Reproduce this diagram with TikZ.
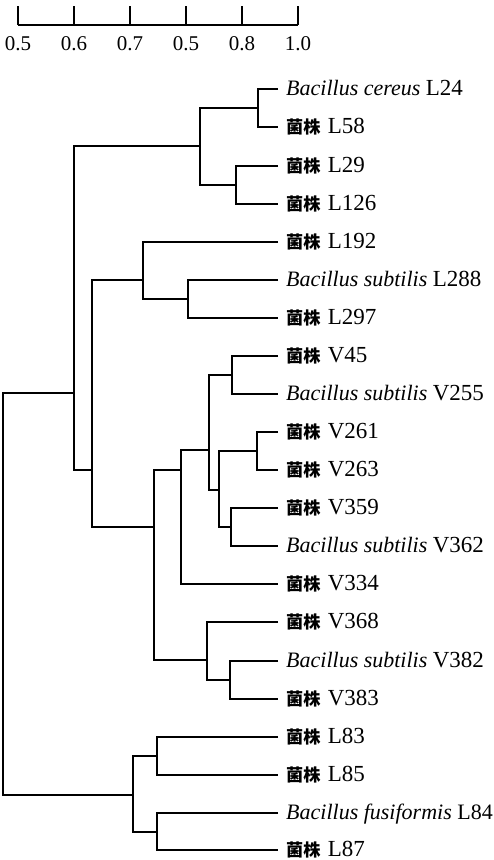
\documentclass[tikz,border=0pt]{standalone}
\usepackage{fontspec}
\setmainfont{Liberation Serif}
\newfontfamily\cjk[Scale=0.78]{Noto Sans CJK SC}
\newcommand{\idf}[1]{{\fontsize{23}{26}\selectfont #1}}
\newcommand{\jz}[1]{{\cjk\bfseries 菌株}\,\,\idf{#1}}
\newcommand{\bac}[2]{\textit{Bacillus #1}~\idf{#2}}

\begin{document}
\begin{tikzpicture}[x=1pt,y=-1pt,
    branch/.style={line width=1.3pt},
    leaf/.style={anchor=west,inner xsep=8pt,inner ysep=0pt,
      text height=13pt,text depth=0pt,font=\fontsize{22}{26}\selectfont},
    tick/.style={font=\fontsize{21}{25}\selectfont,anchor=base,inner sep=0pt},
  ]
  \useasboundingbox (0,0) rectangle (494,860);

  % scale bar
  \draw[branch] (18,25) -- (298,25);
  \foreach \v [count=\i from 0] in {0.5,0.6,0.7,0.5,0.8,1.0}{
    \draw[branch] (18+56*\i,25) -- (18+56*\i,6);
    \node[tick] (sc\i) at (18+56*\i,50) {\v};
  }

  \node[leaf] (L24)  at (278,89)  {\bac{cereus}{L24}};
  \node[leaf] (L58)  at (278,127) {\jz{L58}};
  \node[leaf] (L29)  at (278,166) {\jz{L29}};
  \node[leaf] (L126) at (278,204) {\jz{L126}};
  \node[leaf] (L192) at (278,242) {\jz{L192}};
  \node[leaf] (L288) at (278,280) {\bac{subtilis}{L288}};
  \node[leaf] (L297) at (278,318) {\jz{L297}};
  \node[leaf] (V45)  at (278,356) {\jz{V45}};
  \node[leaf] (V255) at (278,394) {\bac{subtilis}{V255}};
  \node[leaf] (V261) at (278,432) {\jz{V261}};
  \node[leaf] (V263) at (278,470) {\jz{V263}};
  \node[leaf] (V359) at (278,508) {\jz{V359}};
  \node[leaf] (V362) at (278,546) {\bac{subtilis}{V362}};
  \node[leaf] (V334) at (278,584) {\jz{V334}};
  \node[leaf] (V368) at (278,622) {\jz{V368}};
  \node[leaf] (V382) at (278,661) {\bac{subtilis}{V382}};
  \node[leaf] (V383) at (278,699) {\jz{V383}};
  \node[leaf] (L83)  at (278,737) {\jz{L83}};
  \node[leaf] (L85)  at (278,775) {\jz{L85}};
  \node[leaf] (L84)  at (278,813) {\textit{Bacillus fusiformis}~L84};
  \node[leaf] (L87)  at (278,850) {\jz{L87}};

  % internal nodes
  \coordinate (cA) at (258,108);
  \coordinate (cB) at (236,185);
  \coordinate (cC) at (200,146);
  \coordinate (cD) at (188,299);
  \coordinate (cE) at (143,280);
  \coordinate (cF) at (232,375);
  \coordinate (cG) at (257,451);
  \coordinate (cH) at (231,527);
  \coordinate (cI) at (219,490);
  \coordinate (cJ) at (209,450);
  \coordinate (cK) at (181,470);
  \coordinate (cM) at (230,680);
  \coordinate (cN) at (207,660);
  \coordinate (cO) at (154,527);
  \coordinate (cP) at (92,470);
  \coordinate (cQ) at (74,393);
  \coordinate (cR) at (157,756);
  \coordinate (cS) at (157,832);
  \coordinate (cT) at (133,795);
  \coordinate (root) at (3,600);

  \draw[branch] (L24.west) -| (cA) |- (L58.west);
  \draw[branch] (L29.west) -| (cB) |- (L126.west);
  \draw[branch] (cA) -| (cC) |- (cB);
  \draw[branch] (L288.west) -| (cD) |- (L297.west);
  \draw[branch] (L192.west) -| (cE) |- (cD);
  \draw[branch] (V45.west) -| (cF) |- (V255.west);
  \draw[branch] (V261.west) -| (cG) |- (V263.west);
  \draw[branch] (V359.west) -| (cH) |- (V362.west);
  \draw[branch] (cG) -| (cI) |- (cH);
  \draw[branch] (cF) -| (cJ) |- (cI);
  \draw[branch] (cJ) -| (cK) |- (V334.west);
  \draw[branch] (V382.west) -| (cM) |- (V383.west);
  \draw[branch] (V368.west) -| (cN) |- (cM);
  \draw[branch] (cK) -| (cO) |- (cN);
  \draw[branch] (cE) -| (cP) |- (cO);
  \draw[branch] (cC) -| (cQ) |- (cP);
  \draw[branch] (L83.west) -| (cR) |- (L85.west);
  \draw[branch] (L84.west) -| (cS) |- (L87.west);
  \draw[branch] (cR) -| (cT) |- (cS);
  \draw[branch] (cQ) -| (root) |- (cT);
\end{tikzpicture}
\end{document}
